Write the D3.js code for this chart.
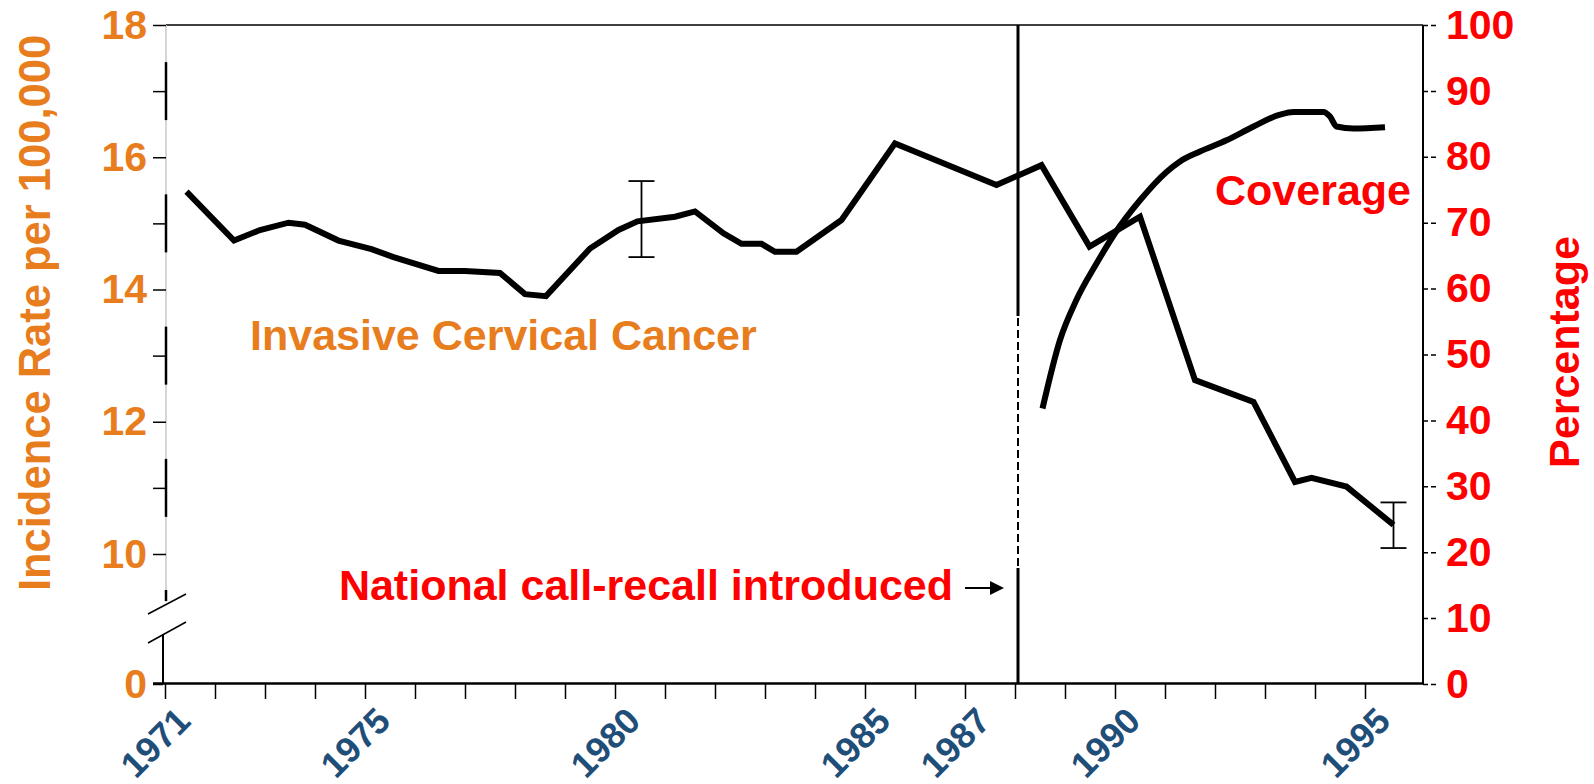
<!DOCTYPE html>
<html>
<head>
<meta charset="utf-8">
<script src="https://cdn.jsdelivr.net/npm/d3@7"></script>
<style>
body { margin: 0; background: #fff; }
svg text { font-family: "Liberation Sans", Arial, sans-serif; font-weight: bold; }
</style>
</head>
<body>
<svg id="chart" width="1594" height="784"></svg>
<script>
// incidence of invasive cervical cancer (per 100,000)
var incYears = [1971.43, 1972.38, 1972.9, 1973.47, 1973.8, 1974.47, 1975.13, 1975.57, 1976.47, 1977.0,
  1977.7, 1978.2, 1978.62, 1979.5, 1980.07, 1980.45, 1981.2, 1981.6, 1982.17, 1982.53,
  1982.93, 1983.2, 1983.63, 1984.53, 1985.6, 1987.63, 1988.53, 1989.49, 1990.5, 1991.6,
  1992.77, 1993.6, 1993.93, 1994.63, 1995.57];
var incRates = [15.48, 14.74, 14.90, 15.01, 14.98, 14.74, 14.61, 14.49, 14.28, 14.28,
  14.25, 13.93, 13.90, 14.62, 14.90, 15.03, 15.10, 15.18, 14.85, 14.69,
  14.69, 14.57, 14.57, 15.05, 16.21, 15.58, 15.88, 14.65, 15.10, 12.63,
  12.30, 11.09, 11.15, 11.02, 10.44];

// screening coverage (%)
var covYears = [1988.55, 1988.9, 1989.23, 1989.63, 1990.0, 1990.5, 1991.03, 1991.3, 1991.7, 1992.23,
  1992.77, 1993.3, 1993.57, 1994.17, 1994.3, 1994.43, 1994.77, 1995.4];
var covPct = [41.8, 52.2, 58.3, 63.8, 68.4, 73.4, 77.7, 79.3, 80.8, 82.5,
  84.6, 86.4, 86.8, 86.8, 86.1, 84.6, 84.3, 84.5];

// error bars on the incidence line
var errYears = [1980.53, 1995.57];
var errLow = [14.49, 10.09];
var errHigh = [15.64, 10.78];

var leftTicks = [10, 12, 14, 16, 18];
var leftMinor = [11, 13, 15, 17];
var rightTicks = [0, 10, 20, 30, 40, 50, 60, 70, 80, 90, 100];
var yearTicks = d3.range(1971, 1996);
var yearLabels = [1971, 1975, 1980, 1985, 1987, 1990, 1995];
var introYear = 1988.06;

var orange = "#E87D1E", red = "#FF0000", blue = "#1F4E79";

var svg = d3.select("#chart");

var x = d3.scaleLinear().domain([1971, 1996.16]).range([165, 1423]);
var yRate = d3.scaleLinear().domain([10, 18]).range([554, 25]);
var yRateLow = d3.scaleLinear().domain([0, 1]).range([684, 634]);
var yPct = d3.scaleLinear().domain([0, 100]).range([684, 25]);

// frame
svg.append("line").attr("x1", 166).attr("x2", 1423).attr("y1", 25).attr("y2", 25)
  .attr("stroke", "#000").attr("stroke-width", 1.5);
svg.append("line").attr("x1", 1423).attr("x2", 1423).attr("y1", 25).attr("y2", 684)
  .attr("stroke", "#000").attr("stroke-width", 2);

// left axis, upper piece
svg.append("line").attr("x1", 166).attr("x2", 166).attr("y1", 25).attr("y2", 602)
  .attr("stroke", "#c8c8c8").attr("stroke-width", 1.5);
leftMinor.forEach(function (v) {
  svg.append("line").attr("x1", 166).attr("x2", 166)
    .attr("y1", yRate(v) - 29).attr("y2", yRate(v) + 29)
    .attr("stroke", "#000").attr("stroke-width", 2.5);
});
svg.append("line").attr("x1", 166).attr("x2", 166).attr("y1", 590).attr("y2", 601)
  .attr("stroke", "#000").attr("stroke-width", 2.5);

var gLeft = svg.append("g").attr("transform", "translate(166,0)")
  .call(d3.axisLeft(yRate).tickValues(leftTicks).tickSize(13).tickPadding(6));
svg.append("g").attr("transform", "translate(166,0)")
  .call(d3.axisLeft(yRate).tickValues(leftMinor).tickSize(13).tickFormat(""));

// left axis, lower piece (only 0)
svg.append("line").attr("x1", 163).attr("x2", 163).attr("y1", 634).attr("y2", 684)
  .attr("stroke", "#000").attr("stroke-width", 2);
var gLeftLow = svg.append("g").attr("transform", "translate(163,0)")
  .call(d3.axisLeft(yRateLow).tickValues([0]).tickSize(10).tickPadding(6)
    .tickFormat(d3.format("d")));

// axis break marks
svg.append("line").attr("x1", 148).attr("y1", 614).attr("x2", 186).attr("y2", 594)
  .attr("stroke", "#000").attr("stroke-width", 1.5);
svg.append("line").attr("x1", 148).attr("y1", 643).attr("x2", 186).attr("y2", 622)
  .attr("stroke", "#000").attr("stroke-width", 1.5);

[gLeft, gLeftLow].forEach(function (g) {
  g.selectAll(".tick text").attr("fill", orange).attr("font-size", 41);
});
svg.selectAll(".domain").remove();
svg.selectAll(".tick line").attr("stroke", "#000").attr("stroke-width", 1.5);

// right axis
var gRight = svg.append("g").attr("transform", "translate(1423,0)")
  .call(d3.axisRight(yPct).tickValues(rightTicks).tickSize(14).tickPadding(9));
gRight.select(".domain").remove();
gRight.selectAll(".tick line").attr("stroke", "#000").attr("stroke-width", 1.5)
  .attr("stroke-dasharray", "5,3");
gRight.selectAll(".tick text").attr("fill", red).attr("font-size", 41);

// bottom axis
svg.append("line").attr("x1", 153).attr("x2", 1423).attr("y1", 683.5).attr("y2", 683.5)
  .attr("stroke", "#000").attr("stroke-width", 2.5);
var gBottom = svg.append("g").attr("transform", "translate(0,683)")
  .call(d3.axisBottom(x).tickValues(yearTicks).tickSize(16)
    .tickFormat(function (d) { return yearLabels.indexOf(d) >= 0 ? d : ""; }));
gBottom.select(".domain").remove();
gBottom.selectAll(".tick line").attr("stroke", "#000").attr("stroke-width", 1.5);
gBottom.selectAll(".tick text")
  .attr("x", 0).attr("y", 0).attr("dy", 0)
  .attr("text-anchor", "end")
  .attr("transform", "translate(27,40) rotate(-45)")
  .attr("fill", blue).attr("font-size", 36);

// screening introduction line
var xi = x(introYear);
svg.append("line").attr("x1", xi).attr("x2", xi).attr("y1", 25).attr("y2", 316)
  .attr("stroke", "#000").attr("stroke-width", 3);
svg.append("line").attr("x1", xi).attr("x2", xi).attr("y1", 318).attr("y2", 566)
  .attr("stroke", "#000").attr("stroke-width", 2).attr("stroke-dasharray", "8,4");
svg.append("line").attr("x1", xi).attr("x2", xi).attr("y1", 568).attr("y2", 684)
  .attr("stroke", "#000").attr("stroke-width", 3);

// data lines
var incLine = d3.line()
  .x(function (d, i) { return x(incYears[i]); })
  .y(function (d) { return yRate(d); });
svg.append("path").attr("d", incLine(incRates))
  .attr("fill", "none").attr("stroke", "#000").attr("stroke-width", 6);

var covLine = d3.line()
  .x(function (d, i) { return x(covYears[i]); })
  .y(function (d) { return yPct(d); })
  .curve(d3.curveMonotoneX);
svg.append("path").attr("d", covLine(covPct))
  .attr("fill", "none").attr("stroke", "#000").attr("stroke-width", 6);

// error bars
errYears.forEach(function (yr, i) {
  var ex = x(yr);
  svg.append("line").attr("x1", ex).attr("x2", ex)
    .attr("y1", yRate(errHigh[i])).attr("y2", yRate(errLow[i]))
    .attr("stroke", "#000").attr("stroke-width", 1.8);
  [errHigh[i], errLow[i]].forEach(function (v) {
    svg.append("line").attr("x1", ex - 13).attr("x2", ex + 13)
      .attr("y1", yRate(v)).attr("y2", yRate(v))
      .attr("stroke", "#000").attr("stroke-width", 1.8);
  });
});

// annotations
svg.append("text").attr("x", 250).attr("y", 350).attr("font-size", 43)
  .attr("fill", orange).text("Invasive Cervical Cancer");
svg.append("text").attr("x", 1215).attr("y", 205).attr("font-size", 43)
  .attr("fill", red).text("Coverage");
svg.append("text").attr("x", 953).attr("y", 600).attr("font-size", 43)
  .attr("text-anchor", "end").attr("fill", red).text("National call-recall introduced");
svg.append("line").attr("x1", 965).attr("x2", 992).attr("y1", 588).attr("y2", 588)
  .attr("stroke", "#000").attr("stroke-width", 2);
svg.append("polygon").attr("points", "990,581 1004,588 990,595").attr("fill", "#000");

// axis titles
svg.append("text").attr("transform", "translate(50,313) rotate(-90)")
  .attr("text-anchor", "middle").attr("font-size", 43.5).attr("fill", orange)
  .text("Incidence Rate per 100,000");
svg.append("text").attr("transform", "translate(1579,352) rotate(-90)")
  .attr("text-anchor", "middle").attr("font-size", 43).attr("fill", red)
  .text("Percentage");
</script>
</body>
</html>
